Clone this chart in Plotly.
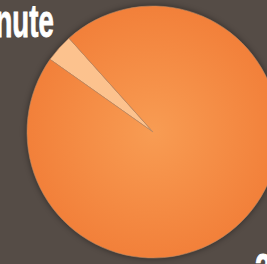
import plotly.graph_objects as go

labels = ["Other", "Main"]
values = [3.6, 96.4]
colors = ["#fcc28e", "#f58c44"]
title_text = "minute"
corner_text = "2"

W, H = 300, 264
cx, cy, r = 153, 132, 126

fig = go.Figure(go.Pie(
    labels=labels, values=values, sort=False,
    direction="clockwise", rotation=-54.8,
    marker=dict(colors=colors, line=dict(color="#b98a66", width=0.6)),
    textinfo="none", hoverinfo="skip",
    domain=dict(x=[(cx - r) / W, (cx + r) / W], y=[(H - cy - r) / H, (H - cy + r) / H]),
))

fig.add_annotation(text="<b>" + title_text + "</b>", xref="paper", yref="paper",
                   x=56 / W, y=1 - (-7) / H, xanchor="right", yanchor="top", showarrow=False,
                   font=dict(family="Liberation Sans", size=46, color="white"))
fig.add_annotation(text="<b>" + corner_text + "</b>", xref="paper", yref="paper",
                   x=253 / W, y=1 - 243 / H, xanchor="left", yanchor="top", showarrow=False,
                   font=dict(family="Liberation Sans", size=44, color="white"))

fig.update_layout(width=W, height=H, margin=dict(l=0, r=0, t=0, b=0),
                  paper_bgcolor="#554c46", plot_bgcolor="#554c46", showlegend=False)

post = """
document.body.style.margin='0';document.body.style.overflow='hidden';
(function(){
var gd=document.getElementById('{plot_id}');
function deco(){
  var svg=gd.querySelector('svg.main-svg'); if(!svg) return;
  var ns='http://www.w3.org/2000/svg';
  var defs=svg.querySelector('defs');
  if(!document.getElementById('pg')){
    var g=document.createElementNS(ns,'radialGradient'); g.setAttribute('id','pg');
    [['0%','#f89c53'],['100%','#f2803a']].forEach(function(s){var st=document.createElementNS(ns,'stop');st.setAttribute('offset',s[0]);st.setAttribute('stop-color',s[1]);g.appendChild(st);});
    defs.appendChild(g);
  }
  var paths=gd.querySelectorAll('.slice path.surface');
  if(paths.length>1){paths[1].style.fill='url(#pg)';}
  var pl=gd.querySelector('.pielayer'); if(pl){pl.style.filter='drop-shadow(0px 0px 3px rgba(0,0,0,0.45))';}
  var t=gd.querySelectorAll('.annotation-text');
  t.forEach(function(e,i){e.style.transformBox='fill-box';e.style.transformOrigin=(i==0?'right':'left')+' center';e.style.transform='scaleX('+(i==0?0.6:0.66)+')';e.style.stroke='white';e.style.strokeWidth='0.9px';});
}
deco(); setTimeout(deco,30); setTimeout(deco,200);
})();
"""
fig.write_html("out.html", config={"displayModeBar": False}, post_script=post)
